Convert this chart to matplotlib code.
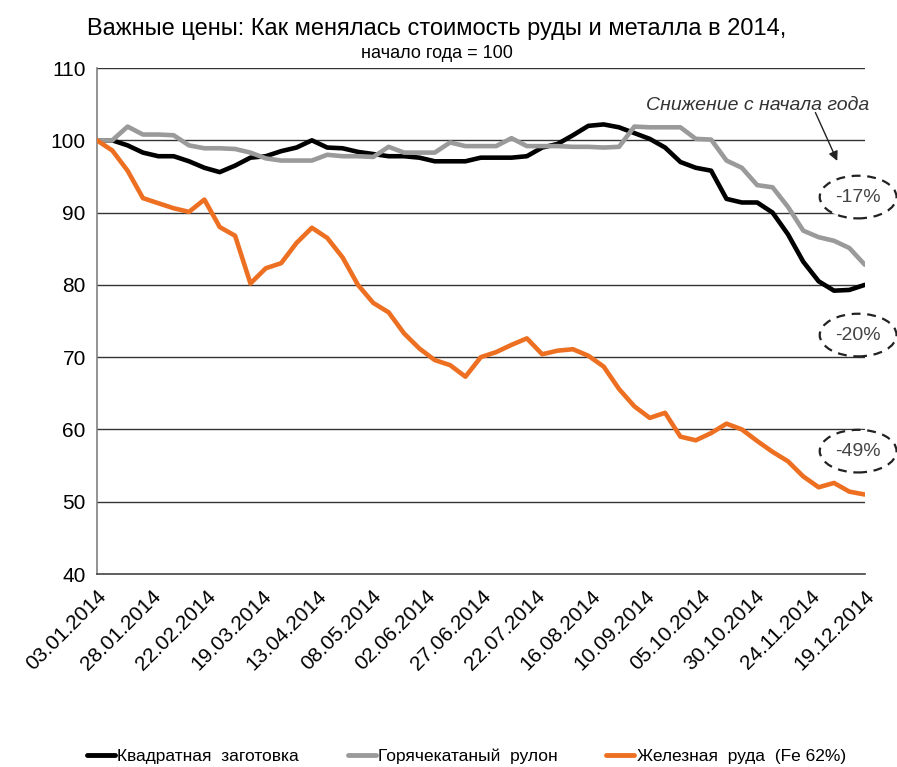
import numpy as np
import matplotlib
matplotlib.use("Agg")
import matplotlib.pyplot as plt
import matplotlib.dates as mdates
from matplotlib.patches import Ellipse
from datetime import datetime, timedelta

plt.rcParams['font.family'] = ['Liberation Sans', 'DejaVu Sans']

# Weekly observations starting 03.01.2014
start_date = "03.01.2014"
n_weeks = 51

billet = [100, 100, 99.3, 98.3, 97.8, 97.8, 97.1, 96.2, 95.6, 96.5,
          97.6, 97.8, 98.5, 99.0, 100.0, 99.0, 98.9, 98.4, 98.1, 97.8,
          97.8, 97.6, 97.1, 97.1, 97.1, 97.6, 97.6, 97.6, 97.8, 99.0,
          99.5, 100.7, 102.0, 102.2, 101.8, 101.0, 100.2, 99.0, 97.0, 96.2,
          95.8, 91.9, 91.4, 91.4, 90.0, 87.0, 83.2, 80.5, 79.2, 79.3, 80.0]

hrc = [100, 100, 101.9, 100.8, 100.8, 100.7, 99.3, 98.9, 98.9, 98.8,
       98.3, 97.5, 97.2, 97.2, 97.2, 98.0, 97.8, 97.8, 97.7, 99.1,
       98.3, 98.3, 98.3, 99.7, 99.2, 99.2, 99.2, 100.3, 99.2, 99.2,
       99.2, 99.1, 99.1, 99.0, 99.1, 101.9, 101.8, 101.8, 101.8, 100.2,
       100.1, 97.2, 96.2, 93.8, 93.5, 90.8, 87.5, 86.6, 86.1, 85.1, 82.8]

ore = [100, 98.6, 95.8, 92.0, 91.3, 90.6, 90.1, 91.8, 88.0, 86.8,
       80.2, 82.3, 83.0, 85.8, 87.9, 86.5, 83.8, 80.0, 77.5, 76.2,
       73.3, 71.2, 69.6, 68.9, 67.3, 70.0, 70.7, 71.7, 72.6, 70.4,
       70.9, 71.1, 70.2, 68.7, 65.6, 63.2, 61.6, 62.3, 59.0, 58.5,
       59.5, 60.8, 60.0, 58.4, 56.9, 55.6, 53.5, 52.0, 52.6, 51.4, 51.0]

series_names = ["Квадратная  заготовка", "Горячекатаный  рулон", "Железная  руда  (Fe 62%)"]
series_colors = ["#000000", "#9a9a9a", "#ED7022"]

tick_labels = ["03.01.2014", "28.01.2014", "22.02.2014", "19.03.2014", "13.04.2014",
               "08.05.2014", "02.06.2014", "27.06.2014", "22.07.2014", "16.08.2014",
               "10.09.2014", "05.10.2014", "30.10.2014", "24.11.2014", "19.12.2014"]

change_labels = ["-17%", "-20%", "-49%"]
change_y = [92.15, 73.06, 57.0]

title = "Важные цены: Как менялась стоимость руды и металла в 2014,"
subtitle = "начало года = 100"
note = "Снижение с начала года"

d0 = datetime.strptime(start_date, "%d.%m.%Y")
dates = [d0 + timedelta(days=7 * i) for i in range(n_weeks)]
tick_dates = [datetime.strptime(s, "%d.%m.%Y") for s in tick_labels]

fig = plt.figure(figsize=(8.97, 7.67), dpi=100)
ax = fig.add_axes([0.108, 0.2516, 0.856, 0.6597])

for vals, name, col in zip([billet, hrc, ore], series_names, series_colors):
    ax.plot(dates, vals, color=col, lw=3.3, label=name, solid_capstyle='round',
            solid_joinstyle='round', zorder=3)

ax.set_ylim(40, 110)
ax.set_xlim(dates[0], dates[-1])
ax.set_yticks(range(40, 111, 10))
for y in range(50, 111, 10):
    ax.axhline(y, color="#333333", lw=1.0, zorder=1)
ax.set_xticks(tick_dates)
ax.set_xticklabels(tick_labels, rotation=45, ha='right', rotation_mode='anchor')
ax.tick_params(axis='both', length=0, labelsize=15, colors='black')
ax.tick_params(axis='x', pad=9)
ax.tick_params(axis='y', pad=8)
for s in ['top', 'right']:
    ax.spines[s].set_visible(False)
ax.spines['left'].set_color('#808080')
ax.spines['left'].set_linewidth(1.2)
ax.spines['bottom'].set_color('#444444')
ax.spines['bottom'].set_linewidth(1.2)

fig.text(0.487, 0.962, title, ha='center', va='center', fontsize=17)
fig.text(0.487, 0.930, subtitle, ha='center', va='center', fontsize=13)

# annotation
ax.text(1.006, 0.925, note, transform=ax.transAxes, ha='right', va='center',
        fontsize=14, style='italic', color='#333333')
ax.annotate("", xy=(dates[0] + timedelta(days=338), 96.8),
            xytext=(dates[0] + timedelta(days=327), 104.2),
            arrowprops=dict(arrowstyle='-|>', color='#222222', lw=1.0,
                            mutation_scale=14), annotation_clip=False)

cx = mdates.date2num(dates[0] + timedelta(days=347))
for lab, yc in zip(change_labels, change_y):
    e = Ellipse((cx, yc), width=35, height=5.9, ls=(0, (4, 3)),
                lw=1.6, edgecolor='#222222', facecolor='white',
                clip_on=False, zorder=4)
    ax.add_patch(e)
    ax.text(cx, yc, lab, ha='center', va='center', fontsize=14,
            color='#444444', zorder=5, clip_on=False)

leg = fig.legend(loc='lower center', bbox_to_anchor=(0.52, -0.016), ncol=3,
                 frameon=False, fontsize=12.5, handlelength=1.6, handletextpad=0.15,
                 columnspacing=2.8)
for l in leg.get_lines():
    l.set_linewidth(3.5)

fig.savefig("out.png", dpi=100)
